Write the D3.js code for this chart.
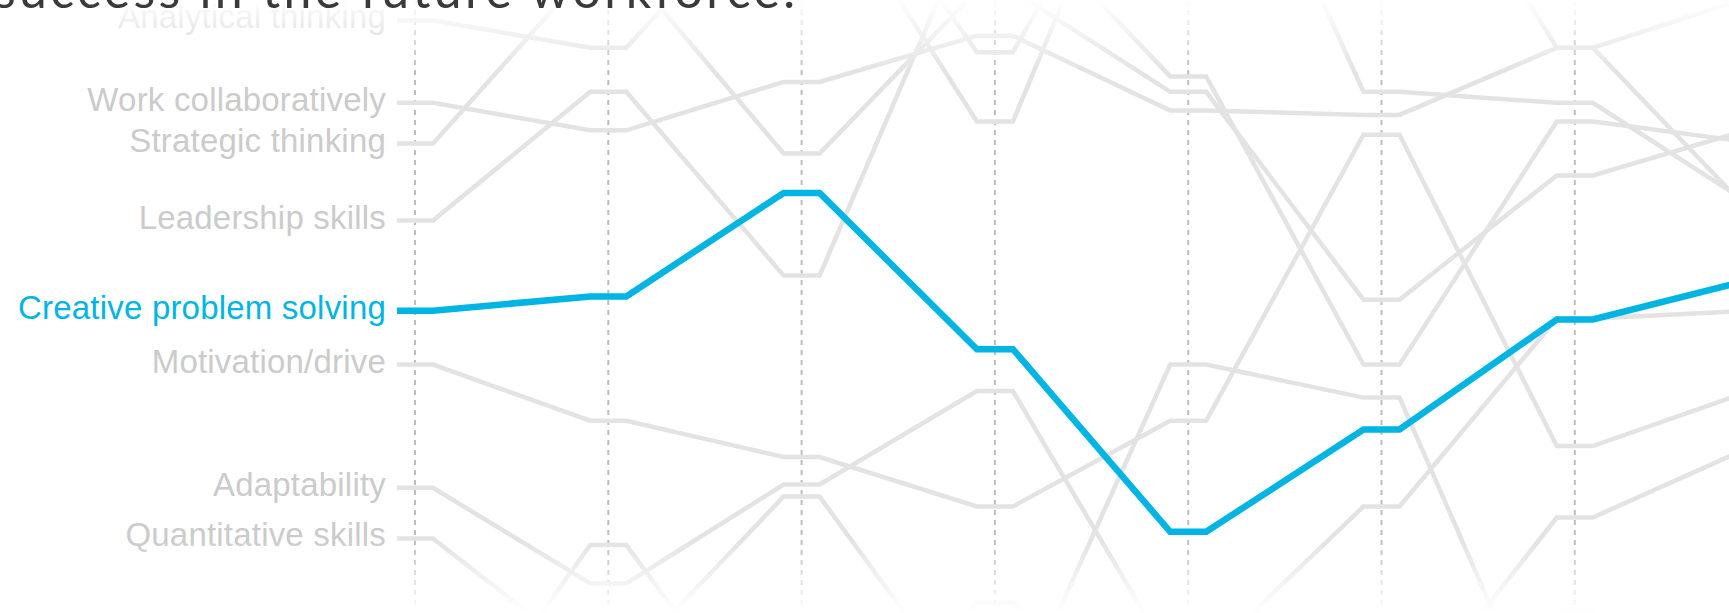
<!DOCTYPE html>
<html>
<head>
<meta charset="utf-8">
<script src="https://cdn.jsdelivr.net/npm/d3@7"></script>
<style>
  body { margin: 0; background: #fff; overflow: hidden; }
  svg { display: block; }
</style>
</head>
<body>
<svg id="chart" width="1729" height="613"></svg>
<script>
// survey waves (columns); only the lines are shown, no period labels are visible
const waves = [0, 1, 2, 3, 4, 5, 6, 7];

// labelled skills, score per wave (0-100 scale)
const skills = [
  "Analytical thinking",
  "Work collaboratively",
  "Strategic thinking",
  "Leadership skills",
  "Creative problem solving",
  "Motivation/drive",
  "Adaptability",
  "Quantitative skills",
];
const analytical = [72.7, 70.2, 85.9, 63.5, 97.7, 66.2, 65.2, 56.0];
const collaborate = [65.2, 62.7, 67.1, 71.3, 64.5, 64.1, 70.2, 55.3];
const strategic = [61.5, 77.5, 60.6, 75.4, 66.2, 47.3, 58.6, 62.8];
const leadership = [54.5, 66.2, 49.5, 82.7, 67.6, 41.4, 63.5, 61.6];
const creative = [46.3, 47.6, 57.0, 42.8, 26.2, 35.5, 45.5, 49.1];
const motivation = [41.4, 36.3, 33.0, 28.5, 36.3, 62.3, 34.0, 39.0];
const adaptability = [30.2, 21.5, 30.5, 39.0, 14.8, 28.5, 45.6, 46.3];
const quantitative = [25.6, 14.4, 29.4, 9.8, 41.4, 38.4, 5.7, 10.9];

// skills whose labels sit outside the visible crop
const otherTop = [80.0, 84.5, 90.4, 69.8, 95.0, 93.4, 70.2, 74.8];
const otherLow = [5.0, 25.0, 5.5, 19.7, 10.0, 9.3, 27.5, 33.9];
const otherBottom = [1.8, 3.6, 9.1, 3.6, 5.5, 6.4, 19.1, 9.1];

const highlight = "Creative problem solving";
const titleText = "success in the future workforce.";

const series = [
  { name: null, values: otherTop },
  { name: null, values: otherLow },
  { name: null, values: otherBottom },
  { name: skills[0], values: analytical },
  { name: skills[1], values: collaborate },
  { name: skills[2], values: strategic },
  { name: skills[3], values: leadership },
  { name: skills[4], values: creative },
  { name: skills[5], values: motivation },
  { name: skills[6], values: adaptability },
  { name: skills[7], values: quantitative },
];

const svg = d3.select("#chart");
const width = 1729;
const height = 613;

const x = d3.scaleLinear().domain([0, waves.length - 1]).range([415, 415 + 7 * 193.3]);
const y = d3.scaleLinear().domain([0, 100]).range([820, -280]);
const flat = 18; // half width of the level step at each column

const grey = "#e3e3e3";
const blue = "#00b4e3";

// dashed column guides
svg.append("g")
  .selectAll("line")
  .data(waves)
  .enter()
  .append("line")
  .attr("x1", (d) => x(d))
  .attr("x2", (d) => x(d))
  .attr("y1", 0)
  .attr("y2", height)
  .attr("stroke", "#bdbdbd")
  .attr("stroke-width", 2)
  .attr("stroke-dasharray", "5,5");

// each point becomes a short flat step, joined by straight segments
const line = d3.line().x((d) => d[0]).y((d) => d[1]);
function stepPoints(values) {
  const pts = [];
  values.forEach((v, i) => {
    pts.push([x(i) - flat, y(v)]);
    pts.push([x(i) + flat, y(v)]);
  });
  return pts;
}

const ordered = series.filter((s) => s.name !== highlight)
  .concat(series.filter((s) => s.name === highlight));

svg.append("g")
  .selectAll("path")
  .data(ordered)
  .enter()
  .append("path")
  .attr("d", (d) => line(stepPoints(d.values)))
  .attr("fill", "none")
  .attr("stroke", (d) => (d.name === highlight ? blue : grey))
  .attr("stroke-width", (d) => (d.name === highlight ? 6.5 : 4.5))
  .attr("stroke-linejoin", "miter");

// skill labels at the first column
svg.append("g")
  .selectAll("text")
  .data(series.filter((s) => s.name))
  .enter()
  .append("text")
  .attr("x", x(0) - 29)
  .attr("y", (d) => y(d.values[0]) + 8)
  .attr("text-anchor", "end")
  .attr("font-family", "'Liberation Sans', Arial, Helvetica, sans-serif")
  .attr("font-size", 33)
  .attr("letter-spacing", 0.2)
  .attr("fill", (d) => (d.name === highlight ? blue : "#cbcbcb"))
  .text((d) => d.name);

// white fades at the top and bottom edges
const defs = svg.append("defs");
const fadeTop = defs.append("linearGradient").attr("id", "fadeTop")
  .attr("x1", 0).attr("x2", 0).attr("y1", 0).attr("y2", 1);
fadeTop.append("stop").attr("offset", 0).attr("stop-color", "#fff").attr("stop-opacity", 0.97);
fadeTop.append("stop").attr("offset", 1).attr("stop-color", "#fff").attr("stop-opacity", 0);
const fadeBottom = defs.append("linearGradient").attr("id", "fadeBottom")
  .attr("x1", 0).attr("x2", 0).attr("y1", 0).attr("y2", 1);
fadeBottom.append("stop").attr("offset", 0).attr("stop-color", "#fff").attr("stop-opacity", 0);
fadeBottom.append("stop").attr("offset", 1).attr("stop-color", "#fff").attr("stop-opacity", 1);

svg.append("rect").attr("x", 0).attr("y", 0).attr("width", width).attr("height", 72)
  .attr("fill", "url(#fadeTop)");
svg.append("rect").attr("x", 0).attr("y", 540).attr("width", width).attr("height", height - 540)
  .attr("fill", "url(#fadeBottom)");

// title, mostly cut off by the top edge
svg.append("text")
  .attr("x", -6)
  .attr("y", 8)
  .attr("font-family", "Lato, 'Open Sans', sans-serif")
  .attr("font-weight", 400)
  .attr("font-size", 50)
  .attr("textLength", 801)
  .attr("lengthAdjust", "spacing")
  .attr("fill", "#3a3a3a")
  .text(titleText);
</script>
</body>
</html>
